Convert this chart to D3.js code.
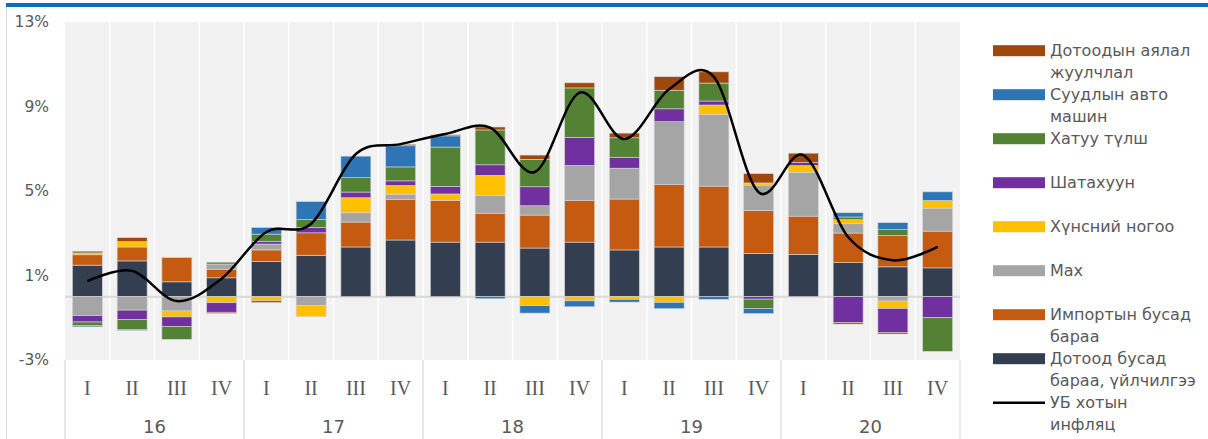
<!DOCTYPE html>
<html>
<head>
  <meta charset="UTF-8">
  <style>
    body { margin: 0; background: #fff; }
    svg { display: block; }
    text { fill: #595959; }
  </style>
</head>
<body>
<svg></svg>
<script src="https://d3js.org/d3.v7.min.js"></script>
<script>

let width = 1208, height = 439;

// categories
var quarters = ["I", "II", "III", "IV"];
var years = ["16", "17", "18", "19", "20"];

// contributions, percentage points (series in stacking order)
var domestic = [1.49, 1.69, 0.70, 0.89, 1.66, 1.96, 2.35, 2.68, 2.58, 2.58, 2.30, 2.58, 2.21, 2.35, 2.35, 2.04, 2.00, 1.61, 1.41, 1.36];
var imported = [0.49, 0.66, 1.15, 0.41, 0.55, 1.06, 1.18, 1.93, 1.98, 1.37, 1.56, 1.98, 2.41, 2.95, 2.88, 2.04, 1.81, 1.40, 1.48, 1.74];
var meat     = [-0.90, -0.64, -0.68, 0.24, 0.28, -0.43, 0.44, 0.24, 0, 0.83, 0.44, 1.65, 1.46, 2.98, 3.40, 1.20, 2.08, 0.44, -0.21, 1.09];
var veg      = [0.09, 0.25, -0.28, -0.29, -0.20, -0.52, 0.71, 0.41, 0.30, 0.96, -0.43, -0.20, -0.13, -0.27, 0.44, 0.10, 0.31, 0.19, -0.35, 0.36];
var fuel     = [-0.30, -0.44, -0.45, -0.45, 0.13, 0.25, 0.27, 0.22, 0.36, 0.50, 0.90, 1.33, 0.52, 0.61, 0.19, -0.12, 0.15, -1.22, -1.13, -1.00];
var coal     = [-0.16, -0.47, -0.61, 0.09, 0.34, 0.38, 0.68, 0.66, 1.86, 1.65, 1.30, 2.34, 0.92, 0.88, 0.85, -0.44, 0, 0.13, 0.28, -1.59];
var cars     = [-0.07, -0.05, 0, 0, 0.31, 0.85, 1.02, 1.00, 0.53, -0.10, -0.35, -0.28, -0.13, -0.30, -0.13, -0.24, 0, 0.20, 0.33, 0.41];
var tourism  = [0.08, 0.19, 0, -0.05, -0.08, 0, 0, 0.07, 0.05, 0.14, 0.20, 0.24, 0.22, 0.64, 0.53, 0.44, 0.44, -0.08, -0.08, 0];
// headline inflation, Ulaanbaatar
var inflation = [0.73, 1.22, -0.21, 0.85, 3.06, 3.45, 6.75, 7.22, 7.70, 8.00, 5.90, 9.66, 7.46, 9.82, 10.4, 4.94, 6.70, 2.82, 1.72, 2.35];

var yTicks = [-3, 1, 5, 9, 13];

var keys = ["domestic", "imported", "meat", "veg", "fuel", "coal", "cars", "tourism"];
var series = [domestic, imported, meat, veg, fuel, coal, cars, tourism];
var colors = ["#333f50", "#c55a11", "#a5a5a5", "#ffc000", "#7030a0", "#548235", "#2e75b6", "#9e480e"];
var names = [
  ["Дотоод бусад", "бараа, үйлчилгээ"],
  ["Импортын бусад", "бараа"],
  ["Мах"],
  ["Хүнсний ногоо"],
  ["Шатахуун"],
  ["Хатуу түлш"],
  ["Суудлын авто", "машин"],
  ["Дотоодын аялал", "жуулчлал"]
];
var lineName = ["УБ хотын", "инфляц"];

let rows = inflation.map((v, i) => {
  let r = { i: i };
  keys.forEach((k, j) => r[k] = series[j][i]);
  return r;
});

let svg = d3.select("svg")
    .attr("width", width)
    .attr("height", height);

let x = d3.scaleBand()
    .domain(d3.range(20))
    .range([65, 960])
    .paddingInner(0.33)
    .paddingOuter(0.165);

let y = d3.scaleLinear()
    .domain([-3, 13])
    .range([360, 22]);

let colorScale = d3.scaleOrdinal().domain(keys).range(colors);
let step = x.step();

// frame + top rule
svg.append("line")
    .attr("x1", 6.5).attr("x2", 6.5).attr("y1", 7).attr("y2", height)
    .attr("stroke", "#d9d9d9");
svg.append("rect")
    .attr("x", 6).attr("y", 3).attr("width", width - 6).attr("height", 4)
    .attr("fill", "#0b6dbf");

// plot background
svg.append("rect")
    .attr("x", 65).attr("y", y(13))
    .attr("width", 895).attr("height", y(-3) - y(13))
    .attr("fill", "#f2f2f2");

svg.append("g")
    .selectAll("line")
    .data(d3.range(1, 20))
    .enter()
    .append("line")
    .attr("x1", d => 65 + d * step).attr("x2", d => 65 + d * step)
    .attr("y1", y(13)).attr("y2", y(-3))
    .attr("stroke", "#fff").attr("stroke-width", 1.5);

// y labels
svg.append("g")
    .selectAll("text")
    .data(yTicks)
    .enter()
    .append("text")
    .attr("x", 49)
    .attr("y", d => y(d))
    .attr("dy", "0.35em")
    .attr("text-anchor", "end")
    .style("font", "15.5px 'DejaVu Sans'")
    .text(d => d + "%");

// zero line
svg.append("line")
    .attr("x1", 65).attr("x2", 960)
    .attr("y1", y(0)).attr("y2", y(0))
    .attr("stroke", "#d9d9d9").attr("stroke-width", 2);

// stacked bars
let stacked = d3.stack().keys(keys).offset(d3.stackOffsetDiverging)(rows);

svg.append("g")
    .selectAll("g")
    .data(stacked)
    .enter()
    .append("g")
    .attr("fill", d => colorScale(d.key))
    .selectAll("rect")
    .data(d => d)
    .enter()
    .filter(d => d[1] - d[0] !== 0)
    .append("rect")
    .attr("x", d => x(d.data.i))
    .attr("width", x.bandwidth())
    .attr("y", d => y(Math.max(d[0], d[1])))
    .attr("height", d => Math.abs(y(d[0]) - y(d[1])))
    .attr("stroke", "#d6d6d6")
    .attr("stroke-width", 0.6);

// inflation line
let line = d3.line()
    .x((d, i) => x(i) + x.bandwidth() / 2)
    .y(d => y(d))
    .curve(d3.curveCardinal.tension(0));

svg.append("path")
    .datum(inflation)
    .attr("d", line)
    .attr("fill", "none")
    .attr("stroke", "#000")
    .attr("stroke-width", 2.5);

// x axis: quarters and years
svg.append("g")
    .selectAll("text")
    .data(d3.range(20))
    .enter()
    .append("text")
    .attr("x", d => x(d) + x.bandwidth() / 2)
    .attr("y", 388)
    .attr("dy", "0.35em")
    .attr("text-anchor", "middle")
    .style("font", "20px 'Liberation Serif'")
    .text(d => quarters[d % 4]);

svg.append("g")
    .selectAll("text")
    .data(years)
    .enter()
    .append("text")
    .attr("x", (d, i) => 65 + (i * 4 + 2) * step)
    .attr("y", 427)
    .attr("dy", "0.35em")
    .attr("text-anchor", "middle")
    .style("font", "18px 'DejaVu Sans'")
    .text(d => d);

svg.append("g")
    .selectAll("line")
    .data(d3.range(0, 21, 4))
    .enter()
    .append("line")
    .attr("x1", d => 65 + d * step).attr("x2", d => 65 + d * step)
    .attr("y1", 360).attr("y2", height)
    .attr("stroke", "#d9d9d9").attr("stroke-width", 1.2);

// legend
let legendItems = keys.map((k, j) => ({ color: colors[j], label: names[j] })).reverse();
legendItems.push({ color: null, label: lineName });

let legend = svg.append("g")
    .selectAll("g")
    .data(legendItems)
    .enter()
    .append("g")
    .attr("transform", (d, i) => "translate(993," + (50.7 + i * 44) + ")");

legend.filter(d => d.color)
    .append("rect")
    .attr("x", 0).attr("y", -5.5)
    .attr("width", 52).attr("height", 11)
    .attr("fill", d => d.color);

legend.filter(d => !d.color)
    .append("line")
    .attr("x1", 0).attr("x2", 52)
    .attr("y1", 0).attr("y2", 0)
    .attr("stroke", "#000").attr("stroke-width", 2.5);

legend.append("text")
    .attr("x", 57)
    .style("font", "16px 'DejaVu Sans'")
    .selectAll("tspan")
    .data(d => d.label)
    .enter()
    .append("tspan")
    .attr("x", 57)
    .attr("y", (d, i) => i * 21.7)
    .attr("dy", "0.36em")
    .text(d => d);

</script>
</body>
</html>
